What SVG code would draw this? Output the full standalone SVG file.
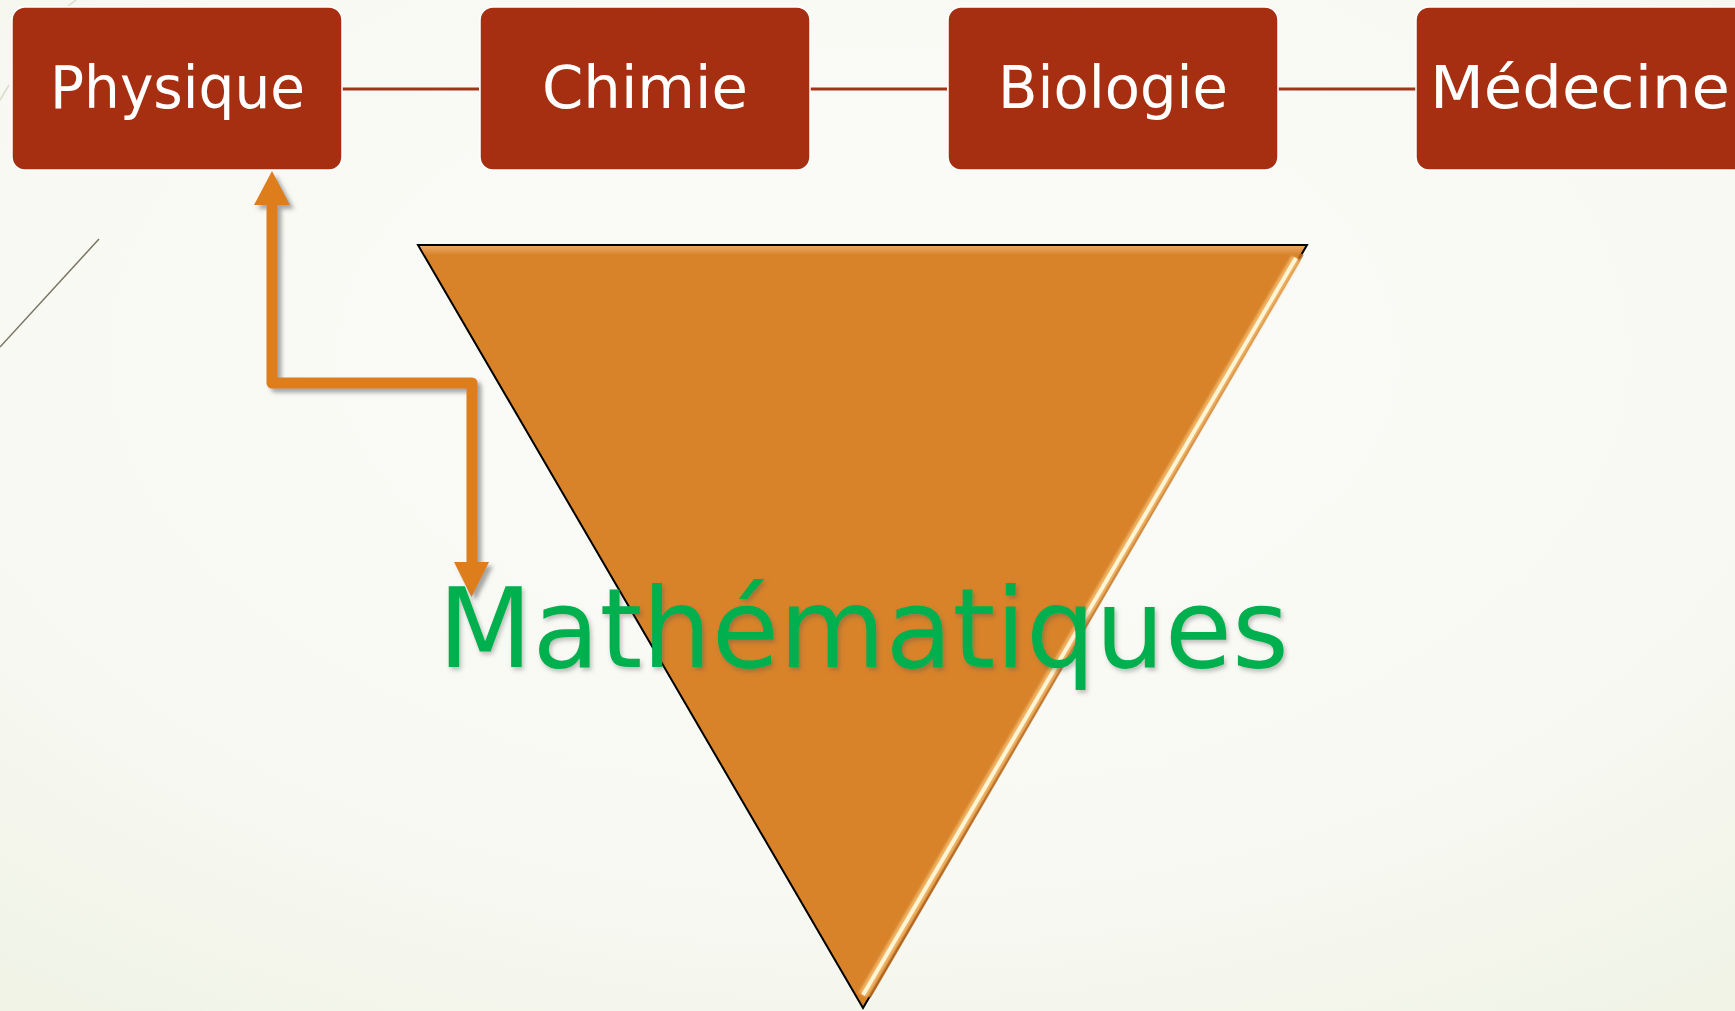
<svg xmlns="http://www.w3.org/2000/svg" width="1735" height="1011" viewBox="0 0 1735 1011">
  <defs>
    <radialGradient id="bg" cx="0.5" cy="0.35" r="0.8">
      <stop offset="0" stop-color="#fbfbf8"/>
      <stop offset="0.65" stop-color="#f8f9f3"/>
      <stop offset="1" stop-color="#f0f3e6"/>
    </radialGradient>
    <linearGradient id="triTop" x1="0" y1="0" x2="0" y2="1">
      <stop offset="0" stop-color="#eeb070"/>
      <stop offset="1" stop-color="#d8832a"/>
    </linearGradient>
    <filter id="arrowShadow" x="-20%" y="-20%" width="140%" height="140%">
      <feDropShadow dx="4" dy="4" stdDeviation="2" flood-color="#606060" flood-opacity="0.55"/>
    </filter>
    <filter id="textShadow" x="-10%" y="-20%" width="120%" height="140%">
      <feDropShadow dx="2" dy="3" stdDeviation="2" flood-color="#505050" flood-opacity="0.35"/>
    </filter>
    <filter id="soft" x="-5%" y="-5%" width="110%" height="110%">
      <feGaussianBlur stdDeviation="1"/>
    </filter>
  </defs>
  <style>
    .box { fill: #a52f10; stroke: #ffffff; stroke-width: 1.5; }
    .label { font-family: "DejaVu Sans", "Liberation Sans", sans-serif; font-size: 59px; fill: #ffffff; text-anchor: middle; }
    .link { stroke: #a3341c; stroke-width: 3; fill: none; }
    .arrow { stroke: #dd7d1b; stroke-width: 11; fill: none; stroke-linejoin: round; }
    .head { fill: #dd7d1b; }
    .math { font-family: "DejaVu Sans", "Liberation Sans", sans-serif; font-size: 110px; fill: #00b050; }
  </style>

  <rect x="0" y="0" width="1735" height="1011" fill="url(#bg)"/>
  <!-- decorative background lines -->
  <line x1="0" y1="347" x2="99" y2="239" stroke="#7a7662" stroke-width="1.5"/>
  <line x1="0" y1="100" x2="9" y2="85" stroke="#d8dccb" stroke-width="1.5"/>
  <line x1="68" y1="6" x2="76" y2="0" stroke="#d8dccb" stroke-width="1.5"/>

  <g id="connectors">
    <line class="link" x1="342" y1="89" x2="479" y2="89"/>
    <line class="link" x1="810" y1="89" x2="947" y2="89"/>
    <line class="link" x1="1278" y1="89" x2="1416" y2="89"/>
  </g>

  <g id="node-physique">
    <rect class="box" x="12" y="7" width="330" height="163" rx="13"/>
    <text class="label" x="177.5" y="108" textLength="255" lengthAdjust="spacingAndGlyphs">Physique</text>
  </g>
  <g id="node-chimie">
    <rect class="box" x="480" y="7" width="330" height="163" rx="13"/>
    <text class="label" x="645" y="108" textLength="206" lengthAdjust="spacingAndGlyphs">Chimie</text>
  </g>
  <g id="node-biologie">
    <rect class="box" x="948" y="7" width="330" height="163" rx="13"/>
    <text class="label" x="1113" y="108" textLength="230" lengthAdjust="spacingAndGlyphs">Biologie</text>
  </g>
  <g id="node-medecine">
    <rect class="box" x="1416" y="7" width="340" height="163" rx="13"/>
    <text class="label" x="1580" y="108" textLength="300" lengthAdjust="spacingAndGlyphs">Médecine</text>
  </g>

  <g id="node-triangle">
    <polygon points="418,245 1307,245 863,1008" fill="#d8832a" stroke="#000000" stroke-width="2" stroke-linejoin="miter"/>
    <polygon points="420,246 1305,246 1299,255 425,255" fill="url(#triTop)" opacity="0.85"/>
    <line x1="1302" y1="254" x2="869" y2="997" stroke="#c46e1e" stroke-width="4" opacity="0.85"/>
    <line x1="1296" y1="258" x2="863" y2="995" stroke="#f0b264" stroke-width="10" filter="url(#soft)"/>
    <line x1="1296" y1="258" x2="863" y2="995" stroke="#fff5d4" stroke-width="4"/>
  </g>

  <g id="connector-arrow" filter="url(#arrowShadow)">
    <path class="arrow" d="M272,205 V383 H472 V563"/>
    <polygon class="head" points="254,205 290,205 272,171"/>
    <polygon class="head" points="454,562 489,562 471.5,597"/>
  </g>

  <g id="node-mathematiques">
    <text class="math" x="438" y="667" textLength="851" lengthAdjust="spacingAndGlyphs" filter="url(#textShadow)">Mathématiques</text>
  </g>
</svg>
